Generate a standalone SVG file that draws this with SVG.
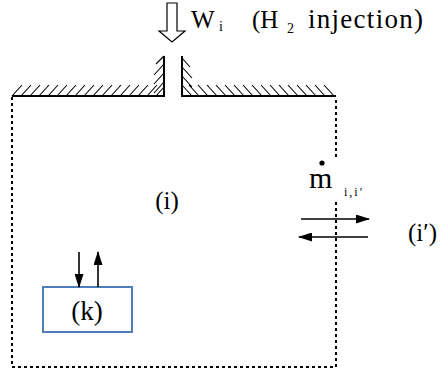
<svg xmlns="http://www.w3.org/2000/svg" width="447" height="376" viewBox="0 0 447 376">
<style>
text{font-family:'Liberation Serif','Times New Roman',serif;fill:#000}
.t{font-size:25px}
.s{font-size:14px}
.wall{stroke:#000;stroke-width:2;fill:none}
.h{stroke:#000;stroke-width:1.1;fill:none}
.dot{stroke:#000;stroke-width:2;stroke-dasharray:3 3;fill:none}
.ar{stroke:#000;stroke-width:1.6;fill:none;marker-end:url(#ah)}
</style>
<defs>
<marker id="ah" viewBox="0 0 14 9" refX="13" refY="4.5" markerWidth="14" markerHeight="9" markerUnits="userSpaceOnUse" orient="auto">
<path d="M0,0 L14,4.5 L0,9 Z" fill="#000"/>
</marker>
</defs>
<g id="wall">
<path class="wall" d="M12,96 H164 V56 M182,56 V96 H336"/>
<path class="h" d="M12,96 L22,85 M21,96 L31,85 M30,96 L40,85 M39,96 L49,85 M48,96 L58,85 M57,96 L67,85 M66,96 L76,85 M75,96 L85,85 M84,96 L94,85 M93,96 L103,85 M102,96 L112,85 M111,96 L121,85 M120,96 L130,85 M129,96 L139,85 M138,96 L148,85 M147,96 L157,85 M156,96 L164,87 M154,93 L164,82 M154,84 L164,73 M154,75 L164,64 M156,64 L164,56"/>
<path class="h" d="M182,58 L190,67 M182,67 L192,78 M182,76 L192,87 M182,85 L192,96 M189,85 L199,96 M198,85 L208,96 M207,85 L217,96 M216,85 L226,96 M225,85 L235,96 M234,85 L244,96 M243,85 L253,96 M252,85 L262,96 M261,85 L271,96 M270,85 L280,96 M279,85 L289,96 M288,85 L298,96 M297,85 L307,96 M306,85 L316,96 M315,85 L325,96 M324,85 L334,96"/>
</g>
<g id="boundary">
<path class="dot" d="M12,97 V367 H336 V202 M336,157 V97"/>
</g>
<g id="injection">
<path d="M167,3 H177 V31 H185 L172,42 L159,31 H167 Z" fill="#fff" stroke="#000" stroke-width="1.2"/>
<text class="t" x="191" y="28">W</text>
<text class="s" x="219" y="31">i</text>
<text class="t" x="252" y="28">(H</text>
<text class="s" x="287" y="33">2</text>
<text class="t" x="308" y="28" style="font-size:27px" textLength="115" lengthAdjust="spacing">injection)</text>
</g>
<g id="node-i">
<text class="t" x="167" y="209" text-anchor="middle">(i)</text>
</g>
<g id="node-iprime">
<text class="t" x="408" y="241">(i′)</text>
</g>
<g id="node-k">
<rect x="43" y="287" width="89" height="45" fill="none" stroke="#4f7db8" stroke-width="2"/>
<text class="t" x="87" y="320" text-anchor="middle" style="font-size:27px">(k)</text>
</g>
<g id="connectors">
<path class="ar" d="M79,252 V287"/>
<path class="ar" d="M98,287 V252"/>
<path class="ar" d="M301,219 H369"/>
<path class="ar" d="M368,237 H299"/>
</g>
<g id="flow-label">
<text x="309" y="188" style="font-size:30px">m</text>
<circle cx="322" cy="163" r="2.6" fill="#000"/>
<text x="344" y="196" style="font-size:12px;letter-spacing:2px">i,i′</text>
</g>
</svg>
